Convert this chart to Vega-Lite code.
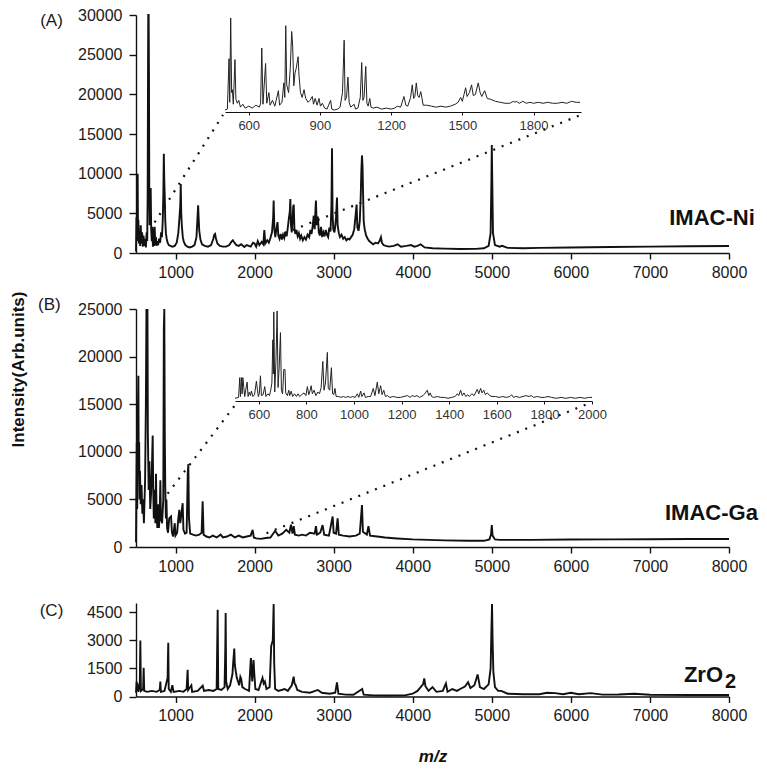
{
  "$schema": "https://vega.github.io/schema/vega-lite/v6.json",
  "background": "white",
  "padding": {"left": 8, "top": 7, "right": 4, "bottom": 4},
  "config": {
    "view": {"stroke": null},
    "font": "Liberation Sans",
    "axis": {"grid": false, "domainColor": "#111", "domainWidth": 1.4, "tickColor": "#111", "tickWidth": 1.4, "labelFont": "Liberation Sans", "labelFontSize": 16, "labelColor": "#1a1a1a", "labelFlush": false, "labelOverlap": false, "labelSeparation": 0, "titleFont": "Liberation Sans", "titleColor": "#111"},
    "title": {"font": "Liberation Sans", "fontSize": 17, "fontWeight": "normal", "color": "#1a1a1a", "anchor": "start", "frame": "group", "offset": 0, "baseline": "middle"}
  },
  "datasets": {
    "A": [
      {"x":500,"y":200},{"x":506,"y":4500},{"x":512,"y":1500},{"x":517,"y":6000},{"x":521,"y":10000},{"x":525,"y":2500},{"x":530,"y":4200},{"x":537,"y":1200},{"x":545,"y":2800},{"x":552,"y":900},{"x":560,"y":3500},{"x":568,"y":1200},{"x":577,"y":2600},{"x":585,"y":800},{"x":595,"y":2200},{"x":605,"y":900},{"x":615,"y":1800},{"x":625,"y":700},{"x":635,"y":2600},{"x":642,"y":1500},{"x":648,"y":8000},{"x":652,"y":22500},{"x":655,"y":30000},{"x":660,"y":30000},{"x":664,"y":22500},{"x":668,"y":8000},{"x":673,"y":3500},{"x":680,"y":5000},{"x":686,"y":8200},{"x":692,"y":3000},{"x":700,"y":1500},{"x":708,"y":3300},{"x":714,"y":800},{"x":722,"y":3100},{"x":728,"y":900},{"x":736,"y":3300},{"x":744,"y":1000},{"x":752,"y":2000},{"x":760,"y":900},{"x":770,"y":1500},{"x":780,"y":1000},{"x":792,"y":1800},{"x":805,"y":1300},{"x":818,"y":2600},{"x":828,"y":2000},{"x":838,"y":4000},{"x":846,"y":7500},{"x":852,"y":12500},{"x":858,"y":9000},{"x":863,"y":7400},{"x":870,"y":4200},{"x":878,"y":2500},{"x":888,"y":1800},{"x":900,"y":1300},{"x":915,"y":1000},{"x":935,"y":900},{"x":960,"y":800},{"x":990,"y":900},{"x":1015,"y":1300},{"x":1035,"y":2500},{"x":1050,"y":4500},{"x":1060,"y":6000},{"x":1066,"y":8700},{"x":1072,"y":5000},{"x":1080,"y":3400},{"x":1092,"y":2000},{"x":1105,"y":1400},{"x":1125,"y":1000},{"x":1150,"y":800},{"x":1180,"y":700},{"x":1210,"y":800},{"x":1240,"y":1000},{"x":1265,"y":2000},{"x":1278,"y":4500},{"x":1286,"y":6000},{"x":1292,"y":4500},{"x":1300,"y":2800},{"x":1315,"y":1700},{"x":1335,"y":1100},{"x":1370,"y":900},{"x":1410,"y":800},{"x":1450,"y":1000},{"x":1478,"y":1800},{"x":1490,"y":2300},{"x":1500,"y":2400},{"x":1512,"y":1800},{"x":1530,"y":1200},{"x":1560,"y":900},{"x":1600,"y":800},{"x":1640,"y":800},{"x":1680,"y":1000},{"x":1705,"y":1400},{"x":1725,"y":1600},{"x":1745,"y":1300},{"x":1770,"y":1000},{"x":1800,"y":900},{"x":1830,"y":1100},{"x":1870,"y":750},{"x":1900,"y":1000},{"x":1950,"y":800},{"x":1980,"y":1300},{"x":2000,"y":1200},{"x":2020,"y":800},{"x":2040,"y":1500},{"x":2060,"y":1000},{"x":2090,"y":1400},{"x":2110,"y":1100},{"x":2123,"y":2900},{"x":2135,"y":1200},{"x":2160,"y":1600},{"x":2180,"y":1300},{"x":2200,"y":1900},{"x":2220,"y":2600},{"x":2235,"y":4500},{"x":2241,"y":6600},{"x":2250,"y":3000},{"x":2262,"y":2000},{"x":2275,"y":3000},{"x":2290,"y":3900},{"x":2300,"y":2200},{"x":2315,"y":1800},{"x":2330,"y":2400},{"x":2345,"y":1700},{"x":2360,"y":2300},{"x":2375,"y":1900},{"x":2390,"y":2700},{"x":2405,"y":2100},{"x":2420,"y":3200},{"x":2435,"y":4500},{"x":2445,"y":5200},{"x":2452,"y":6800},{"x":2460,"y":3500},{"x":2470,"y":2600},{"x":2480,"y":4200},{"x":2488,"y":5800},{"x":2495,"y":6100},{"x":2503,"y":3200},{"x":2515,"y":2400},{"x":2530,"y":2900},{"x":2545,"y":2100},{"x":2560,"y":2500},{"x":2575,"y":1800},{"x":2590,"y":2200},{"x":2610,"y":1600},{"x":2630,"y":2000},{"x":2650,"y":1700},{"x":2670,"y":2300},{"x":2690,"y":2000},{"x":2705,"y":2900},{"x":2720,"y":2400},{"x":2735,"y":3400},{"x":2748,"y":4700},{"x":2760,"y":3000},{"x":2770,"y":5500},{"x":2776,"y":6600},{"x":2785,"y":3500},{"x":2800,"y":4600},{"x":2812,"y":2600},{"x":2825,"y":2200},{"x":2840,"y":3300},{"x":2855,"y":2000},{"x":2870,"y":2600},{"x":2885,"y":2100},{"x":2900,"y":2900},{"x":2915,"y":2300},{"x":2930,"y":2000},{"x":2945,"y":3200},{"x":2960,"y":2700},{"x":2972,"y":6000},{"x":2979,"y":13200},{"x":2986,"y":5000},{"x":2995,"y":3000},{"x":3010,"y":2600},{"x":3020,"y":3400},{"x":3030,"y":4500},{"x":3042,"y":7000},{"x":3050,"y":3500},{"x":3065,"y":2500},{"x":3080,"y":2000},{"x":3100,"y":2300},{"x":3120,"y":1800},{"x":3140,"y":2000},{"x":3160,"y":1600},{"x":3180,"y":1800},{"x":3200,"y":1700},{"x":3220,"y":2000},{"x":3240,"y":2300},{"x":3260,"y":3000},{"x":3275,"y":4500},{"x":3290,"y":6100},{"x":3300,"y":3200},{"x":3315,"y":2800},{"x":3330,"y":4000},{"x":3342,"y":7000},{"x":3350,"y":10300},{"x":3358,"y":12300},{"x":3365,"y":11000},{"x":3372,"y":7500},{"x":3380,"y":4000},{"x":3392,"y":3000},{"x":3410,"y":2200},{"x":3430,"y":1800},{"x":3450,"y":1500},{"x":3475,"y":1300},{"x":3500,"y":1100},{"x":3530,"y":1300},{"x":3560,"y":1200},{"x":3580,"y":1500},{"x":3598,"y":2000},{"x":3610,"y":1300},{"x":3630,"y":1000},{"x":3660,"y":900},{"x":3700,"y":800},{"x":3760,"y":900},{"x":3810,"y":1100},{"x":3850,"y":800},{"x":3920,"y":900},{"x":3980,"y":1000},{"x":4020,"y":800},{"x":4060,"y":900},{"x":4100,"y":1100},{"x":4150,"y":700},{"x":4250,"y":600},{"x":4400,"y":550},{"x":4600,"y":500},{"x":4800,"y":520},{"x":4900,"y":600},{"x":4960,"y":900},{"x":4985,"y":2500},{"x":4995,"y":9000},{"x":5000,"y":13600},{"x":5006,"y":9000},{"x":5015,"y":2500},{"x":5040,"y":1000},{"x":5100,"y":800},{"x":5130,"y":900},{"x":5200,"y":650},{"x":5400,"y":600},{"x":5600,"y":650},{"x":6000,"y":700},{"x":6500,"y":750},{"x":7000,"y":800},{"x":7500,"y":850},{"x":8000,"y":880}
    ],
    "insetA": [
      {"x":500,"y":2},{"x":510,"y":3},{"x":517,"y":55},{"x":520,"y":10},{"x":524,"y":97},{"x":528,"y":20},{"x":531,"y":23},{"x":535,"y":8},{"x":542,"y":54},{"x":546,"y":13},{"x":552,"y":9},{"x":558,"y":12},{"x":565,"y":5},{"x":575,"y":8},{"x":585,"y":4},{"x":600,"y":6},{"x":615,"y":4},{"x":630,"y":7},{"x":645,"y":5},{"x":650,"y":9},{"x":655,"y":66},{"x":660,"y":8},{"x":671,"y":50},{"x":676,"y":9},{"x":685,"y":20},{"x":690,"y":7},{"x":700,"y":12},{"x":710,"y":6},{"x":725,"y":22},{"x":730,"y":7},{"x":740,"y":10},{"x":748,"y":30},{"x":752,"y":15},{"x":756,"y":89},{"x":760,"y":28},{"x":768,"y":20},{"x":775,"y":45},{"x":781,"y":83},{"x":785,"y":69},{"x":790,"y":27},{"x":795,"y":40},{"x":800,"y":45},{"x":808,"y":57},{"x":812,"y":37},{"x":818,"y":20},{"x":825,"y":15},{"x":833,"y":23},{"x":840,"y":14},{"x":850,"y":10},{"x":858,"y":12},{"x":868,"y":16},{"x":873,"y":8},{"x":880,"y":14},{"x":888,"y":7},{"x":896,"y":14},{"x":902,"y":6},{"x":910,"y":9},{"x":920,"y":4},{"x":930,"y":3},{"x":938,"y":8},{"x":945,"y":12},{"x":950,"y":3},{"x":960,"y":2},{"x":975,"y":3},{"x":985,"y":5},{"x":995,"y":20},{"x":1002,"y":74},{"x":1006,"y":12},{"x":1012,"y":15},{"x":1018,"y":36},{"x":1023,"y":10},{"x":1030,"y":5},{"x":1044,"y":8},{"x":1050,"y":3},{"x":1060,"y":4},{"x":1070,"y":15},{"x":1076,"y":51},{"x":1081,"y":12},{"x":1086,"y":15},{"x":1093,"y":47},{"x":1098,"y":9},{"x":1103,"y":6},{"x":1110,"y":14},{"x":1115,"y":5},{"x":1125,"y":4},{"x":1140,"y":5},{"x":1160,"y":3},{"x":1180,"y":4},{"x":1200,"y":3},{"x":1215,"y":4},{"x":1226,"y":6},{"x":1240,"y":5},{"x":1254,"y":16},{"x":1262,"y":7},{"x":1270,"y":6},{"x":1282,"y":15},{"x":1289,"y":28},{"x":1295,"y":14},{"x":1300,"y":16},{"x":1306,"y":30},{"x":1312,"y":17},{"x":1318,"y":15},{"x":1325,"y":21},{"x":1335,"y":7},{"x":1350,"y":7},{"x":1370,"y":6},{"x":1390,"y":5},{"x":1410,"y":6},{"x":1430,"y":5},{"x":1450,"y":6},{"x":1470,"y":8},{"x":1482,"y":10},{"x":1493,"y":15},{"x":1500,"y":11},{"x":1507,"y":18},{"x":1514,"y":25},{"x":1520,"y":16},{"x":1530,"y":20},{"x":1539,"y":28},{"x":1546,"y":17},{"x":1555,"y":18},{"x":1567,"y":30},{"x":1575,"y":20},{"x":1582,"y":16},{"x":1594,"y":22},{"x":1605,"y":14},{"x":1620,"y":13},{"x":1640,"y":11},{"x":1660,"y":10},{"x":1680,"y":9},{"x":1700,"y":9},{"x":1715,"y":11},{"x":1722,"y":10},{"x":1727,"y":11},{"x":1740,"y":9},{"x":1755,"y":11},{"x":1770,"y":9},{"x":1785,"y":10},{"x":1800,"y":9},{"x":1820,"y":10},{"x":1840,"y":9},{"x":1860,"y":10},{"x":1880,"y":9},{"x":1900,"y":9},{"x":1920,"y":10},{"x":1940,"y":9},{"x":1960,"y":11},{"x":1980,"y":10},{"x":1996,"y":10}
    ],
    "B": [
      {"x":500,"y":500},{"x":505,"y":6000},{"x":510,"y":11000},{"x":515,"y":4000},{"x":520,"y":9000},{"x":525,"y":15000},{"x":530,"y":18000},{"x":535,"y":8000},{"x":540,"y":11000},{"x":545,"y":5000},{"x":550,"y":8000},{"x":560,"y":4500},{"x":570,"y":6500},{"x":580,"y":3500},{"x":590,"y":5000},{"x":600,"y":2500},{"x":615,"y":7000},{"x":625,"y":15000},{"x":632,"y":25000},{"x":638,"y":17500},{"x":645,"y":25000},{"x":650,"y":12000},{"x":660,"y":6000},{"x":670,"y":9000},{"x":680,"y":4000},{"x":690,"y":5500},{"x":700,"y":8000},{"x":711,"y":11700},{"x":718,"y":6000},{"x":725,"y":3000},{"x":735,"y":6000},{"x":745,"y":2500},{"x":753,"y":7700},{"x":760,"y":3500},{"x":770,"y":2000},{"x":780,"y":4500},{"x":790,"y":2000},{"x":800,"y":3500},{"x":808,"y":7000},{"x":815,"y":3000},{"x":830,"y":2500},{"x":845,"y":5000},{"x":852,"y":22900},{"x":858,"y":25000},{"x":864,"y":12000},{"x":870,"y":6400},{"x":878,"y":3000},{"x":885,"y":5000},{"x":893,"y":2000},{"x":905,"y":1500},{"x":920,"y":3000},{"x":943,"y":3200},{"x":955,"y":1500},{"x":970,"y":1100},{"x":990,"y":2500},{"x":1000,"y":1200},{"x":1020,"y":1500},{"x":1035,"y":3000},{"x":1048,"y":3900},{"x":1060,"y":2500},{"x":1090,"y":4600},{"x":1100,"y":1800},{"x":1120,"y":1400},{"x":1140,"y":1500},{"x":1155,"y":7800},{"x":1162,"y":8700},{"x":1170,"y":3000},{"x":1185,"y":1400},{"x":1220,"y":1300},{"x":1260,"y":1200},{"x":1300,"y":1300},{"x":1330,"y":1500},{"x":1343,"y":4800},{"x":1355,"y":1300},{"x":1390,"y":1100},{"x":1430,"y":1000},{"x":1470,"y":1200},{"x":1520,"y":1000},{"x":1570,"y":1300},{"x":1600,"y":1000},{"x":1650,"y":1100},{"x":1700,"y":1300},{"x":1750,"y":1000},{"x":1800,"y":1200},{"x":1850,"y":1000},{"x":1900,"y":1100},{"x":1950,"y":1200},{"x":1975,"y":1800},{"x":1990,"y":1000},{"x":2020,"y":900},{"x":2080,"y":850},{"x":2140,"y":950},{"x":2200,"y":1000},{"x":2260,"y":1700},{"x":2300,"y":1200},{"x":2350,"y":1400},{"x":2400,"y":1800},{"x":2440,"y":1500},{"x":2460,"y":2350},{"x":2480,"y":1400},{"x":2495,"y":2200},{"x":2510,"y":1300},{"x":2560,"y":1200},{"x":2600,"y":1300},{"x":2650,"y":1200},{"x":2700,"y":1500},{"x":2760,"y":1400},{"x":2776,"y":2200},{"x":2790,"y":1300},{"x":2830,"y":1500},{"x":2860,"y":2300},{"x":2880,"y":1300},{"x":2940,"y":1200},{"x":2987,"y":3200},{"x":3000,"y":1500},{"x":3030,"y":1400},{"x":3050,"y":3000},{"x":3065,"y":1300},{"x":3120,"y":1200},{"x":3200,"y":1100},{"x":3280,"y":1200},{"x":3330,"y":1400},{"x":3358,"y":4400},{"x":3370,"y":1600},{"x":3420,"y":1300},{"x":3440,"y":2200},{"x":3460,"y":1200},{"x":3550,"y":1100},{"x":3650,"y":1000},{"x":3800,"y":900},{"x":4000,"y":800},{"x":4200,"y":750},{"x":4400,"y":700},{"x":4700,"y":650},{"x":4900,"y":650},{"x":4970,"y":800},{"x":4990,"y":1300},{"x":5000,"y":2300},{"x":5010,"y":1200},{"x":5040,"y":800},{"x":5100,"y":750},{"x":5500,"y":750},{"x":6000,"y":780},{"x":6500,"y":800},{"x":7000,"y":820},{"x":7500,"y":835},{"x":8000,"y":845}
    ],
    "insetB": [
      {"x":500,"y":3},{"x":515,"y":4},{"x":520,"y":26},{"x":523,"y":5},{"x":527,"y":26},{"x":530,"y":8},{"x":533,"y":26},{"x":537,"y":15},{"x":541,"y":5},{"x":545,"y":12},{"x":551,"y":21},{"x":555,"y":5},{"x":560,"y":10},{"x":565,"y":6},{"x":569,"y":11},{"x":575,"y":5},{"x":582,"y":7},{"x":590,"y":22},{"x":594,"y":13},{"x":598,"y":5},{"x":602,"y":8},{"x":607,"y":28},{"x":611,"y":6},{"x":618,"y":7},{"x":625,"y":16},{"x":630,"y":5},{"x":638,"y":8},{"x":645,"y":6},{"x":650,"y":12},{"x":655,"y":20},{"x":659,"y":68},{"x":661,"y":30},{"x":663,"y":99},{"x":667,"y":10},{"x":672,"y":44},{"x":677,"y":100},{"x":681,"y":15},{"x":686,"y":40},{"x":691,"y":76},{"x":695,"y":12},{"x":700,"y":8},{"x":705,"y":35},{"x":710,"y":35},{"x":713,"y":9},{"x":720,"y":6},{"x":726,"y":12},{"x":730,"y":6},{"x":736,"y":11},{"x":742,"y":5},{"x":750,"y":8},{"x":758,"y":5},{"x":765,"y":8},{"x":772,"y":5},{"x":780,"y":7},{"x":790,"y":9},{"x":798,"y":6},{"x":804,"y":16},{"x":810,"y":7},{"x":816,"y":12},{"x":820,"y":17},{"x":825,"y":8},{"x":832,"y":12},{"x":840,"y":6},{"x":848,"y":10},{"x":855,"y":8},{"x":862,"y":15},{"x":869,"y":44},{"x":874,"y":12},{"x":880,"y":20},{"x":888,"y":54},{"x":892,"y":14},{"x":898,"y":12},{"x":905,"y":37},{"x":910,"y":8},{"x":915,"y":7},{"x":920,"y":14},{"x":925,"y":5},{"x":935,"y":5},{"x":945,"y":4},{"x":955,"y":5},{"x":965,"y":4},{"x":975,"y":5},{"x":985,"y":4},{"x":995,"y":5},{"x":1005,"y":4},{"x":1014,"y":8},{"x":1020,"y":4},{"x":1028,"y":11},{"x":1033,"y":5},{"x":1042,"y":9},{"x":1048,"y":4},{"x":1060,"y":5},{"x":1070,"y":5},{"x":1081,"y":14},{"x":1088,"y":6},{"x":1098,"y":21},{"x":1104,"y":8},{"x":1112,"y":17},{"x":1118,"y":7},{"x":1125,"y":12},{"x":1132,"y":5},{"x":1140,"y":6},{"x":1150,"y":4},{"x":1165,"y":5},{"x":1180,"y":4},{"x":1195,"y":4},{"x":1210,"y":5},{"x":1225,"y":6},{"x":1235,"y":4},{"x":1245,"y":6},{"x":1255,"y":5},{"x":1265,"y":6},{"x":1275,"y":4},{"x":1290,"y":6},{"x":1300,"y":9},{"x":1308,"y":12},{"x":1314,"y":6},{"x":1320,"y":9},{"x":1326,"y":5},{"x":1335,"y":4},{"x":1350,"y":5},{"x":1365,"y":4},{"x":1380,"y":4},{"x":1395,"y":3},{"x":1410,"y":4},{"x":1425,"y":5},{"x":1434,"y":8},{"x":1440,"y":6},{"x":1448,"y":12},{"x":1455,"y":6},{"x":1462,"y":9},{"x":1470,"y":5},{"x":1478,"y":7},{"x":1485,"y":5},{"x":1495,"y":8},{"x":1505,"y":6},{"x":1512,"y":10},{"x":1518,"y":13},{"x":1524,"y":8},{"x":1532,"y":14},{"x":1538,"y":9},{"x":1545,"y":12},{"x":1552,"y":7},{"x":1560,"y":9},{"x":1570,"y":6},{"x":1580,"y":5},{"x":1595,"y":5},{"x":1610,"y":4},{"x":1625,"y":5},{"x":1640,"y":4},{"x":1655,"y":5},{"x":1662,"y":7},{"x":1670,"y":4},{"x":1680,"y":5},{"x":1695,"y":4},{"x":1710,"y":5},{"x":1722,"y":6},{"x":1735,"y":5},{"x":1745,"y":6},{"x":1755,"y":4},{"x":1770,"y":5},{"x":1785,"y":4},{"x":1800,"y":4},{"x":1815,"y":5},{"x":1830,"y":4},{"x":1850,"y":3},{"x":1870,"y":4},{"x":1890,"y":3},{"x":1910,"y":4},{"x":1930,"y":3},{"x":1950,"y":4},{"x":1970,"y":3},{"x":1985,"y":4},{"x":2000,"y":4}
    ],
    "C": [
      {"x":500,"y":200},{"x":508,"y":800},{"x":513,"y":300},{"x":520,"y":700},{"x":530,"y":250},{"x":548,"y":600},{"x":555,"y":3000},{"x":562,"y":300},{"x":590,"y":400},{"x":597,"y":1530},{"x":604,"y":300},{"x":640,"y":250},{"x":700,"y":300},{"x":760,"y":250},{"x":800,"y":350},{"x":808,"y":800},{"x":815,"y":250},{"x":860,"y":300},{"x":900,"y":1000},{"x":904,"y":2030},{"x":908,"y":2880},{"x":914,"y":400},{"x":940,"y":250},{"x":960,"y":600},{"x":975,"y":250},{"x":1050,"y":300},{"x":1100,"y":250},{"x":1140,"y":400},{"x":1153,"y":1430},{"x":1160,"y":350},{"x":1200,"y":600},{"x":1210,"y":250},{"x":1280,"y":300},{"x":1344,"y":580},{"x":1360,"y":300},{"x":1420,"y":350},{"x":1480,"y":300},{"x":1520,"y":400},{"x":1533,"y":4640},{"x":1540,"y":400},{"x":1580,"y":350},{"x":1620,"y":500},{"x":1630,"y":2700},{"x":1634,"y":4460},{"x":1640,"y":800},{"x":1660,"y":400},{"x":1690,"y":600},{"x":1720,"y":1200},{"x":1730,"y":1860},{"x":1743,"y":2560},{"x":1750,"y":1700},{"x":1760,"y":1400},{"x":1775,"y":1000},{"x":1790,"y":800},{"x":1805,"y":600},{"x":1820,"y":1050},{"x":1830,"y":950},{"x":1845,"y":500},{"x":1880,"y":400},{"x":1930,"y":300},{"x":1950,"y":1900},{"x":1954,"y":2060},{"x":1970,"y":800},{"x":1987,"y":1950},{"x":1995,"y":1300},{"x":2010,"y":400},{"x":2050,"y":350},{"x":2100,"y":1000},{"x":2115,"y":700},{"x":2130,"y":800},{"x":2150,"y":400},{"x":2190,"y":500},{"x":2210,"y":2700},{"x":2230,"y":3000},{"x":2241,"y":4950},{"x":2248,"y":1750},{"x":2260,"y":400},{"x":2300,"y":300},{"x":2380,"y":400},{"x":2420,"y":300},{"x":2470,"y":600},{"x":2494,"y":1060},{"x":2505,"y":700},{"x":2520,"y":600},{"x":2540,"y":350},{"x":2600,"y":250},{"x":2700,"y":200},{"x":2800,"y":350},{"x":2850,"y":200},{"x":2950,"y":150},{"x":3020,"y":200},{"x":3042,"y":760},{"x":3060,"y":150},{"x":3150,"y":100},{"x":3250,"y":90},{"x":3361,"y":400},{"x":3380,"y":100},{"x":3500,"y":60},{"x":3700,"y":50},{"x":3900,"y":60},{"x":4000,"y":150},{"x":4060,"y":300},{"x":4100,"y":500},{"x":4130,"y":650},{"x":4146,"y":970},{"x":4160,"y":550},{"x":4200,"y":300},{"x":4250,"y":500},{"x":4300,"y":250},{"x":4380,"y":300},{"x":4420,"y":700},{"x":4440,"y":250},{"x":4500,"y":400},{"x":4560,"y":300},{"x":4600,"y":400},{"x":4660,"y":530},{"x":4700,"y":760},{"x":4730,"y":450},{"x":4780,"y":600},{"x":4821,"y":1180},{"x":4850,"y":500},{"x":4900,"y":400},{"x":4960,"y":650},{"x":4985,"y":1500},{"x":4995,"y":3500},{"x":5003,"y":4950},{"x":5010,"y":3000},{"x":5020,"y":1300},{"x":5040,"y":500},{"x":5080,"y":300},{"x":5120,"y":300},{"x":5200,"y":150},{"x":5400,"y":120},{"x":5600,"y":120},{"x":5700,"y":200},{"x":5800,"y":180},{"x":5900,"y":120},{"x":6000,"y":200},{"x":6100,"y":120},{"x":6250,"y":180},{"x":6400,"y":100},{"x":6600,"y":110},{"x":6800,"y":150},{"x":7000,"y":90},{"x":7500,"y":80},{"x":8000,"y":80}
    ],
    "rulesA": [{"x":735,"y":3850,"x2":1600,"y2":17400},{"x":2376,"y":2480,"x2":6124,"y2":17395}],
    "rulesB": [{"x":900,"y":5600,"x2":1780,"y2":15200},{"x":2150,"y":1450,"x2":6263,"y2":15200}],
    "labA": [{"x":7785,"y":4400,"t":"IMAC-Ni"}],
    "labB": [{"x":7778,"y":3570,"t":"IMAC-Ga"}],
    "labC": [{"x":7677,"y":1150,"t":"ZrO"}],
    "labC2": [{"x":8019,"y":775,"t":"2"}]
  },
  "spacing": 56,
  "bounds": "flush",
  "vconcat": [
    {
      "width": 593, "height": 238,
      "layer": [
        {"layer": [
          {"data": {"name": "A"}, "mark": {"type": "line", "color": "#111", "strokeWidth": 1.9},
           "encoding": {
             "x": {"field": "x", "type": "quantitative", "scale": {"domain": [500, 8000], "nice": false, "zero": false}, "axis": {"values": [1000,2000,3000,4000,5000,6000,7000,8000], "tickCount": 20, "format": "d", "title": null, "tickSize": 6, "labelPadding": 5, "labelOverlap": false}},
             "y": {"field": "y", "type": "quantitative", "scale": {"domain": [0, 30000], "nice": false}, "axis": {"values": [0,5000,10000,15000,20000,25000,30000], "tickCount": 20, "format": "d", "title": "(A)", "titleFontSize": 17, "titleFontWeight": "normal", "titleColor": "#1a1a1a", "titleAngle": 0, "titleX": -85, "titleY": 5, "titleAlign": "center", "titleBaseline": "middle", "tickSize": 7, "labelPadding": 7, "labelOverlap": false}}}},
          {"data": {"name": "rulesA"}, "mark": {"type": "rule", "color": "#111", "strokeWidth": 2.2, "strokeDash": [2, 7]},
           "encoding": {"x": {"field": "x", "type": "quantitative", "scale": {"domain": [500, 8000], "nice": false, "zero": false}}, "y": {"field": "y", "type": "quantitative", "scale": {"domain": [0, 30000], "nice": false}}, "x2": {"field": "x2"}, "y2": {"field": "y2"}}},
          {"data": {"name": "labA"}, "mark": {"type": "text", "font": "Liberation Sans", "fontWeight": "bold", "fontSize": 22, "color": "#111", "baseline": "middle"},
           "encoding": {"x": {"field": "x", "type": "quantitative", "scale": {"domain": [500, 8000], "nice": false, "zero": false}}, "y": {"field": "y", "type": "quantitative", "scale": {"domain": [0, 30000], "nice": false}}, "text": {"field": "t"}}}
        ]},
        {"data": {"name": "insetA"}, "mark": {"type": "line", "color": "#222", "strokeWidth": 1},
         "encoding": {
           "x": {"field": "x", "type": "quantitative", "scale": {"domain": [500, 2000], "range": [89, 445], "nice": false, "zero": false}, "axis": {"orient": "bottom", "offset": -141, "values": [600,900,1200,1500,1800], "tickCount": 20, "format": "d", "title": null, "labelFontSize": 13, "tickSize": 3, "tickWidth": 1, "domainWidth": 1, "labelPadding": 4, "labelColor": "#333", "labelOverlap": false}},
           "y": {"field": "y", "type": "quantitative", "scale": {"domain": [0, 100], "range": [97, 0], "nice": false}, "axis": null}}}
      ],
      "resolve": {"scale": {"x": "independent", "y": "independent"}, "axis": {"x": "independent", "y": "independent"}}
    },
    {
      "width": 593, "height": 238,
      "title": {"text": "(B)", "dx": -98, "dy": 27},
      "layer": [
        {"layer": [
          {"data": {"name": "B"}, "mark": {"type": "line", "color": "#111", "strokeWidth": 1.9},
           "encoding": {
             "x": {"field": "x", "type": "quantitative", "scale": {"domain": [500, 8000], "nice": false, "zero": false}, "axis": {"values": [1000,2000,3000,4000,5000,6000,7000,8000], "tickCount": 20, "format": "d", "title": null, "tickSize": 6, "labelPadding": 5, "labelOverlap": false}},
             "y": {"field": "y", "type": "quantitative", "scale": {"domain": [0, 25000], "nice": false}, "axis": {"values": [0,5000,10000,15000,20000,25000], "tickCount": 20, "format": "d", "title": "Intensity(Arb.units)", "titleFontSize": 17, "titleFontWeight": "bold", "titleX": -118, "titleY": 60, "titleAlign": "center", "titleBaseline": "middle", "titleAngle": -90, "tickSize": 7, "labelPadding": 7, "labelOverlap": false}}}},
          {"data": {"name": "rulesB"}, "mark": {"type": "rule", "color": "#111", "strokeWidth": 2.2, "strokeDash": [2, 7]},
           "encoding": {"x": {"field": "x", "type": "quantitative", "scale": {"domain": [500, 8000], "nice": false, "zero": false}}, "y": {"field": "y", "type": "quantitative", "scale": {"domain": [0, 25000], "nice": false}}, "x2": {"field": "x2"}, "y2": {"field": "y2"}}},
          {"data": {"name": "labB"}, "mark": {"type": "text", "font": "Liberation Sans", "fontWeight": "bold", "fontSize": 22, "color": "#111", "baseline": "middle"},
           "encoding": {"x": {"field": "x", "type": "quantitative", "scale": {"domain": [500, 8000], "nice": false, "zero": false}}, "y": {"field": "y", "type": "quantitative", "scale": {"domain": [0, 25000], "nice": false}}, "text": {"field": "t"}}}
        ]},
        {"data": {"name": "insetB"}, "mark": {"type": "line", "color": "#222", "strokeWidth": 1},
         "encoding": {
           "x": {"field": "x", "type": "quantitative", "scale": {"domain": [500, 2000], "range": [99, 456], "nice": false, "zero": false}, "axis": {"orient": "bottom", "offset": -146, "values": [600,800,1000,1200,1400,1600,1800,2000], "tickCount": 20, "format": "d", "title": null, "labelFontSize": 13, "tickSize": 3, "tickWidth": 1, "domainWidth": 1, "labelPadding": 4, "labelColor": "#333", "labelOverlap": false}},
           "y": {"field": "y", "type": "quantitative", "scale": {"domain": [0, 100], "range": [92, 2], "nice": false}, "axis": null}}}
      ],
      "resolve": {"scale": {"x": "independent", "y": "independent"}, "axis": {"x": "independent", "y": "independent"}}
    },
    {
      "width": 593, "height": 93.5,
      "layer": [
        {"data": {"name": "C"}, "mark": {"type": "line", "color": "#111", "strokeWidth": 1.9},
         "encoding": {
           "x": {"field": "x", "type": "quantitative", "scale": {"domain": [500, 8000], "nice": false, "zero": false}, "axis": {"values": [1000,2000,3000,4000,5000,6000,7000,8000], "tickCount": 20, "format": "d", "title": "m/z", "titleFontSize": 17, "titleFontWeight": "bold", "titleFontStyle": "italic", "titleY": 60, "titleBaseline": "middle", "tickSize": 6, "labelPadding": 5, "labelOverlap": false}},
           "y": {"field": "y", "type": "quantitative", "scale": {"domain": [0, 5000], "nice": false}, "axis": {"values": [0,1500,3000,4500], "tickCount": 20, "format": "d", "title": "(C)", "titleFontSize": 17, "titleFontWeight": "normal", "titleColor": "#1a1a1a", "titleAngle": 0, "titleX": -85, "titleY": 7, "titleAlign": "center", "titleBaseline": "middle", "tickSize": 7, "labelPadding": 7, "labelOverlap": false}}}},
        {"data": {"name": "labC"}, "mark": {"type": "text", "font": "Liberation Sans", "fontWeight": "bold", "fontSize": 22, "color": "#111", "baseline": "middle"},
         "encoding": {"x": {"field": "x", "type": "quantitative"}, "y": {"field": "y", "type": "quantitative"}, "text": {"field": "t"}}},
        {"data": {"name": "labC2"}, "mark": {"type": "text", "font": "Liberation Sans", "fontWeight": "bold", "fontSize": 20, "color": "#111", "baseline": "middle"},
         "encoding": {"x": {"field": "x", "type": "quantitative"}, "y": {"field": "y", "type": "quantitative"}, "text": {"field": "t"}}}
      ]
    }
  ]
}
